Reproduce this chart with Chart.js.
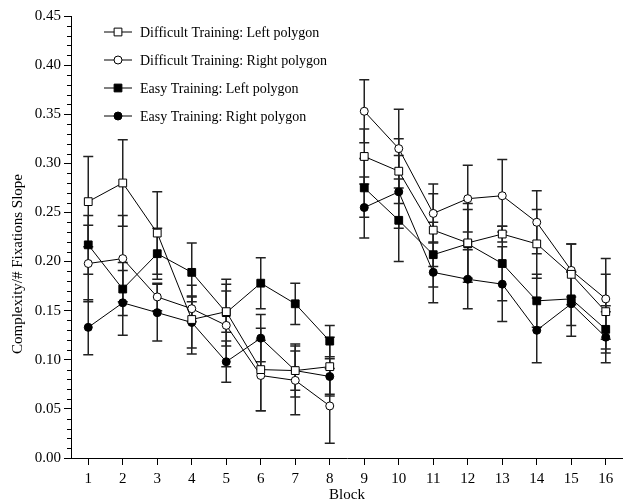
<!DOCTYPE html>
<html>
<head>
<meta charset="utf-8">
<script src="https://cdn.jsdelivr.net/npm/chart.js@4.4.0/dist/chart.umd.min.js"></script>
<style>
  html, body { margin: 0; padding: 0; background: #fff; }
  #wrap { width: 623px; height: 504px; }
</style>
</head>
<body>
<div id="wrap"><canvas id="chart"></canvas></div>
<script>
const blocks = ['1', '2', '3', '4', '5', '6', '7', '8', '9', '10', '11', '12', '13', '14', '15', '16'];

const diffLeft     = [0.261, 0.280, 0.229, 0.141, 0.149, 0.090, 0.089, 0.093, 0.307, 0.292, 0.232, 0.219, 0.228, 0.218, 0.187, 0.149];
const diffLeftErr  = [0.046, 0.044, 0.042, 0.035, 0.021, 0.042, 0.020, 0.030, 0.028, 0.033, 0.037, 0.040, 0.008, 0.035, 0.031, 0.038];

const diffRight    = [0.198, 0.203, 0.164, 0.152, 0.135, 0.084, 0.079, 0.053, 0.353, 0.315, 0.249, 0.264, 0.267, 0.240, 0.191, 0.162];
const diffRightErr = [0.039, 0.044, 0.014, 0.013, 0.042, 0.036, 0.035, 0.038, 0.032, 0.040, 0.030, 0.034, 0.037, 0.032, 0.027, 0.041];

const easyLeft     = [0.217, 0.172, 0.208, 0.189, 0.148, 0.178, 0.157, 0.119, 0.275, 0.242, 0.207, 0.218, 0.198, 0.160, 0.162, 0.131];
const easyLeftErr  = [0.030, 0.027, 0.026, 0.030, 0.034, 0.026, 0.021, 0.016, 0.030, 0.042, 0.033, 0.035, 0.038, 0.027, 0.027, 0.024];

const easyRight    = [0.133, 0.158, 0.148, 0.138, 0.098, 0.122, 0.089, 0.083, 0.255, 0.271, 0.189, 0.182, 0.177, 0.130, 0.157, 0.123];
const easyRightErr = [0.028, 0.033, 0.029, 0.026, 0.021, 0.024, 0.027, 0.018, 0.031, 0.037, 0.031, 0.030, 0.038, 0.033, 0.033, 0.026];

const FONT = 'Liberation Serif, Times New Roman, serif';
const BREAK_AFTER = 7; // no line between block 8 and block 9

function series(label, data, err, style, fill, radius) {
  return {
    label: label,
    data: data,
    errors: err,
    borderColor: '#000',
    borderWidth: 1,
    pointStyle: style,
    pointRadius: radius,
    pointBackgroundColor: fill,
    pointBorderColor: '#000',
    pointBorderWidth: 1,
    tension: 0,
    clip: false,
    segment: {
      borderColor: ctx => ctx.p0DataIndex === BREAK_AFTER ? 'rgba(0,0,0,0)' : '#000'
    }
  };
}

// error bars go under the markers
const errorBars = {
  id: 'errorBars',
  beforeDatasetsDraw(chart) {
    const ctx = chart.ctx;
    const y = chart.scales.y;
    ctx.save();
    ctx.strokeStyle = '#222';
    ctx.lineWidth = 1.5;
    chart.data.datasets.forEach((ds, i) => {
      const meta = chart.getDatasetMeta(i);
      meta.data.forEach((pt, j) => {
        const top = y.getPixelForValue(ds.data[j] + ds.errors[j]);
        const bot = y.getPixelForValue(ds.data[j] - ds.errors[j]);
        ctx.beginPath();
        ctx.moveTo(pt.x, top); ctx.lineTo(pt.x, bot);
        ctx.moveTo(pt.x - 5, top); ctx.lineTo(pt.x + 5, top);
        ctx.moveTo(pt.x - 5, bot); ctx.lineTo(pt.x + 5, bot);
        ctx.stroke();
      });
    });
    ctx.restore();
  }
};

const extras = {
  id: 'extras',
  afterDraw(chart) {
    const ctx = chart.ctx;
    const y = chart.scales.y;
    const left = chart.chartArea.left;
    ctx.save();
    // minor ticks on the y axis
    ctx.strokeStyle = '#000';
    ctx.lineWidth = 1;
    for (let k = 0; k <= 45; k++) {
      if (k % 5 === 0) continue;
      const py = Math.round(y.getPixelForValue(k / 100)) + 0.5;
      ctx.beginPath();
      ctx.moveTo(left - 4, py); ctx.lineTo(left, py);
      ctx.stroke();
    }
    // y axis title
    ctx.fillStyle = '#000';
    ctx.font = '15px ' + FONT;
    ctx.textAlign = 'center';
    ctx.textBaseline = 'middle';
    ctx.translate(18, 264);
    ctx.rotate(-Math.PI / 2);
    ctx.fillText('Complexity/# Fixations Slope', 0, 0);
    ctx.restore();

    // legend inside the plot
    ctx.save();
    ctx.font = '14px ' + FONT;
    ctx.textAlign = 'left';
    ctx.textBaseline = 'middle';
    chart.data.datasets.forEach((ds, i) => {
      const ly = 32 + i * 28;
      const mx = 118;
      ctx.strokeStyle = '#000';
      ctx.lineWidth = 1;
      ctx.beginPath();
      ctx.moveTo(104, ly); ctx.lineTo(132, ly);
      ctx.stroke();
      ctx.fillStyle = ds.pointBackgroundColor;
      ctx.beginPath();
      if (ds.pointStyle === 'rect') {
        const s = ds.pointRadius * Math.SQRT1_2;
        ctx.rect(mx - s, ly - s, 2 * s, 2 * s);
      } else {
        ctx.arc(mx, ly, ds.pointRadius, 0, Math.PI * 2);
      }
      ctx.fill();
      ctx.stroke();
      ctx.fillStyle = '#000';
      ctx.fillText(ds.label, 140, ly + 1);
    });
    ctx.restore();
  }
};

new Chart(document.getElementById('chart').getContext('2d'), {
  type: 'line',
  data: {
    labels: blocks,
    datasets: [
      series('Difficult Training: Left polygon', diffLeft, diffLeftErr, 'rect', '#fff', 5.5),
      series('Difficult Training: Right polygon', diffRight, diffRightErr, 'circle', '#fff', 4),
      series('Easy Training: Left polygon', easyLeft, easyLeftErr, 'rect', '#000', 5.5),
      series('Easy Training: Right polygon', easyRight, easyRightErr, 'circle', '#000', 4)
    ]
  },
  options: {
    responsive: true,
    maintainAspectRatio: false,
    animation: false,
    devicePixelRatio: 1,
    layout: { autoPadding: false, padding: { top: 16, right: 0, left: 0, bottom: 0 } },
    plugins: { legend: { display: false }, tooltip: { enabled: false } },
    scales: {
      x: {
        type: 'category',
        offset: true,
        border: { color: '#000', width: 1 },
        grid: { drawOnChartArea: false, offset: false, tickLength: 7, color: '#000' },
        ticks: { font: { family: FONT, size: 15 }, color: '#000', padding: 5, maxRotation: 0, autoSkip: false },
        title: { display: true, text: 'Block', font: { family: FONT, size: 15 }, color: '#000', padding: 0 },
        afterFit: s => { s.height = 46; s.paddingLeft = 0; s.paddingRight = 0; }
      },
      y: {
        min: 0,
        max: 0.45,
        border: { color: '#000', width: 1 },
        grid: {
          drawOnChartArea: false,
          tickLength: 7,
          tickColor: c => (Math.round(c.tick.value * 100) % 5 === 0 ? '#000' : 'rgba(0,0,0,0)')
        },
        ticks: {
          stepSize: 0.01,
          autoSkip: false,
          padding: 3,
          color: '#000',
          font: { family: FONT, size: 15 },
          callback: v => (Math.round(v * 100) % 5 === 0 ? v.toFixed(2) : '')
        },
        afterFit: s => { s.width = 71; }
      }
    }
  },
  plugins: [errorBars, extras]
});
</script>
</body>
</html>
